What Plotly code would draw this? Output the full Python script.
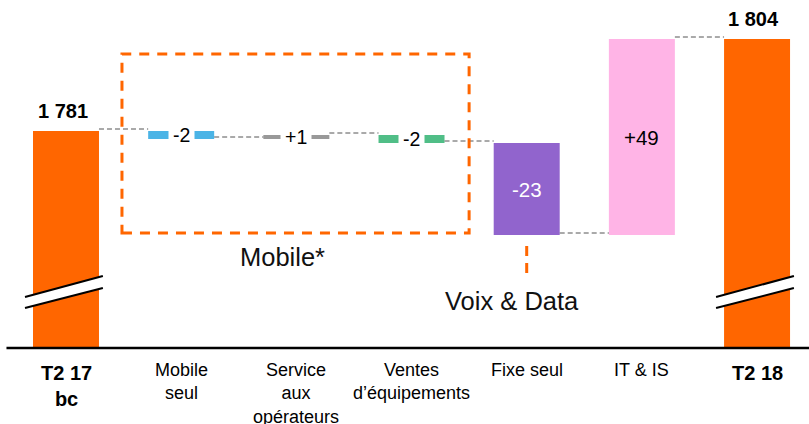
import plotly.graph_objects as go

# ---------------- data ----------------
categories = ["T2 17<br>bc", "Mobile<br>seul", "Service<br>aux<br>opérateurs",
              "Ventes<br>d’équipements", "Fixe seul", "IT & IS", "T2 18"]
start_total = 1781
end_total = 1804
deltas = [-2, 1, -2, -23, 49]
delta_labels = ["-2", "+1", "-2", "-23", "+49"]
total_labels = ["1 781", "1 804"]
group_labels = ["Mobile*", "Voix & Data"]

# ---------------- style ----------------
ORANGE = "#FF6600"
delta_colors = ["#4BB4E6", "#999999", "#50BE87", "#9164CD", "#FFB4E6"]
delta_text_colors = ["#000000", "#000000", "#000000", "#FFFFFF", "#000000"]
FONT = "Liberation Sans, Arial, Helvetica, sans-serif"
BAR_W = 0.573
Y_MIN, Y_MAX = 1726.75, 1813.75
X_MIN, X_MAX = -0.573, 6.451

n = len(categories)
xs = list(range(n))

# running levels
levels = [start_total]
for d in deltas:
    levels.append(levels[-1] + d)

fig = go.Figure()

# total bars
fig.add_trace(go.Bar(x=[0, n - 1], y=[start_total, end_total], width=BAR_W,
                     marker=dict(color=ORANGE, line=dict(width=0)),
                     hoverinfo="skip"))
# delta bars
fig.add_trace(go.Bar(x=xs[1:-1], y=deltas, base=levels[:-1], width=BAR_W,
                     marker=dict(color=delta_colors, line=dict(width=0)),
                     hoverinfo="skip"))

shapes = []
annotations = []

# connectors
conn_levels = levels  # level after each column (first = start total)
for i in range(n - 1):
    lv = conn_levels[i]
    shapes.append(dict(type="line", xref="x", yref="y",
                       x0=i + BAR_W / 2, x1=i + 1 - BAR_W / 2, y0=lv + 0.5, y1=lv + 0.5,
                       line=dict(color="#555555", width=1, dash="5px,3px")))

# delta labels
for k, d in enumerate(deltas):
    i = k + 1
    mid = levels[k] + d / 2
    small = abs(d) < 5
    annotations.append(dict(x=i, y=mid, xref="x", yref="y", text=delta_labels[k],
                            showarrow=False, xanchor="center", yanchor="middle",
                            font=dict(family=FONT, size=19.5 if small else 20.5,
                                      color=delta_text_colors[k]),
                            bgcolor="white" if small else None,
                            borderpad=4 if small else 1))

# total labels
for i, v, t in [(0, start_total, total_labels[0]), (n - 1, end_total, total_labels[1])]:
    annotations.append(dict(x=i - 0.03, y=v, xref="x", yref="y", text="<b>%s</b>" % t,
                            showarrow=False, xanchor="center", yanchor="bottom", yshift=7,
                            font=dict(family=FONT, size=20, color="#000000")))

# category labels
for i, c in enumerate(categories):
    bold = i in (0, n - 1)
    annotations.append(dict(x=i, y=0, xref="x", yref="paper",
                            text="<b>%s</b>" % c if bold else c,
                            showarrow=False, xanchor="center", yanchor="top",
                            yshift=-12 if bold else -10,
                            font=dict(family=FONT, size=20 if bold else 18, color="#000000")))

# group labels
annotations.append(dict(x=1.884, y=1749.5, xref="x", yref="y", text=group_labels[0],
                        showarrow=False, xanchor="center", yanchor="middle",
                        font=dict(family=FONT, size=25.5, color="#111111")))
annotations.append(dict(x=3.868, y=1738.5, xref="x", yref="y", text=group_labels[1],
                        showarrow=False, xanchor="center", yanchor="middle",
                        font=dict(family=FONT, size=25.5, color="#111111")))

# Mobile group dashed box
shapes.append(dict(type="rect", xref="x", yref="y", x0=0.486, x1=3.5, y0=1755.5, y1=1800.25,
                   line=dict(color=ORANGE, width=3, dash="10px,8px"), fillcolor="rgba(0,0,0,0)"))
# Voix & Data short dashed tick
shapes.append(dict(type="line", xref="x", yref="y", x0=4, x1=4, y0=1745.5, y1=1752.5,
                   line=dict(color=ORANGE, width=3, dash="10px,7px")))

# axis break marks on total bars
for cx in (0, n - 1):
    xl, xr = cx - 0.356, cx + 0.32
    up_l, up_r = 1739.5, 1744.75
    lo_l, lo_r = 1736.75, 1741.75
    shapes.append(dict(type="path", xref="x", yref="y",
                       path="M %f,%f L %f,%f L %f,%f L %f,%f Z" % (xl, up_l, xr, up_r, xr, lo_r, xl, lo_l),
                       fillcolor="white", line=dict(width=0)))
    for (a, b) in ((up_l, up_r), (lo_l, lo_r)):
        shapes.append(dict(type="line", xref="x", yref="y", x0=xl, x1=xr, y0=a, y1=b,
                           line=dict(color="black", width=2)))

# baseline
shapes.append(dict(type="line", xref="paper", yref="paper", x0=0.008, x1=1, y0=0, y1=0,
                   line=dict(color="black", width=2.5)))

fig.update_layout(
    width=809, height=424,
    margin=dict(l=0, r=0, t=0, b=76),
    paper_bgcolor="white", plot_bgcolor="white",
    showlegend=False, barmode="overlay",
    xaxis=dict(range=[X_MIN, X_MAX], visible=False, fixedrange=True),
    yaxis=dict(range=[Y_MIN, Y_MAX], visible=False, fixedrange=True),
    shapes=shapes, annotations=annotations,
)

fig.write_html("out.html", config={"displayModeBar": False},
               post_script="document.body.style.margin='0';document.body.style.overflow='hidden';")
